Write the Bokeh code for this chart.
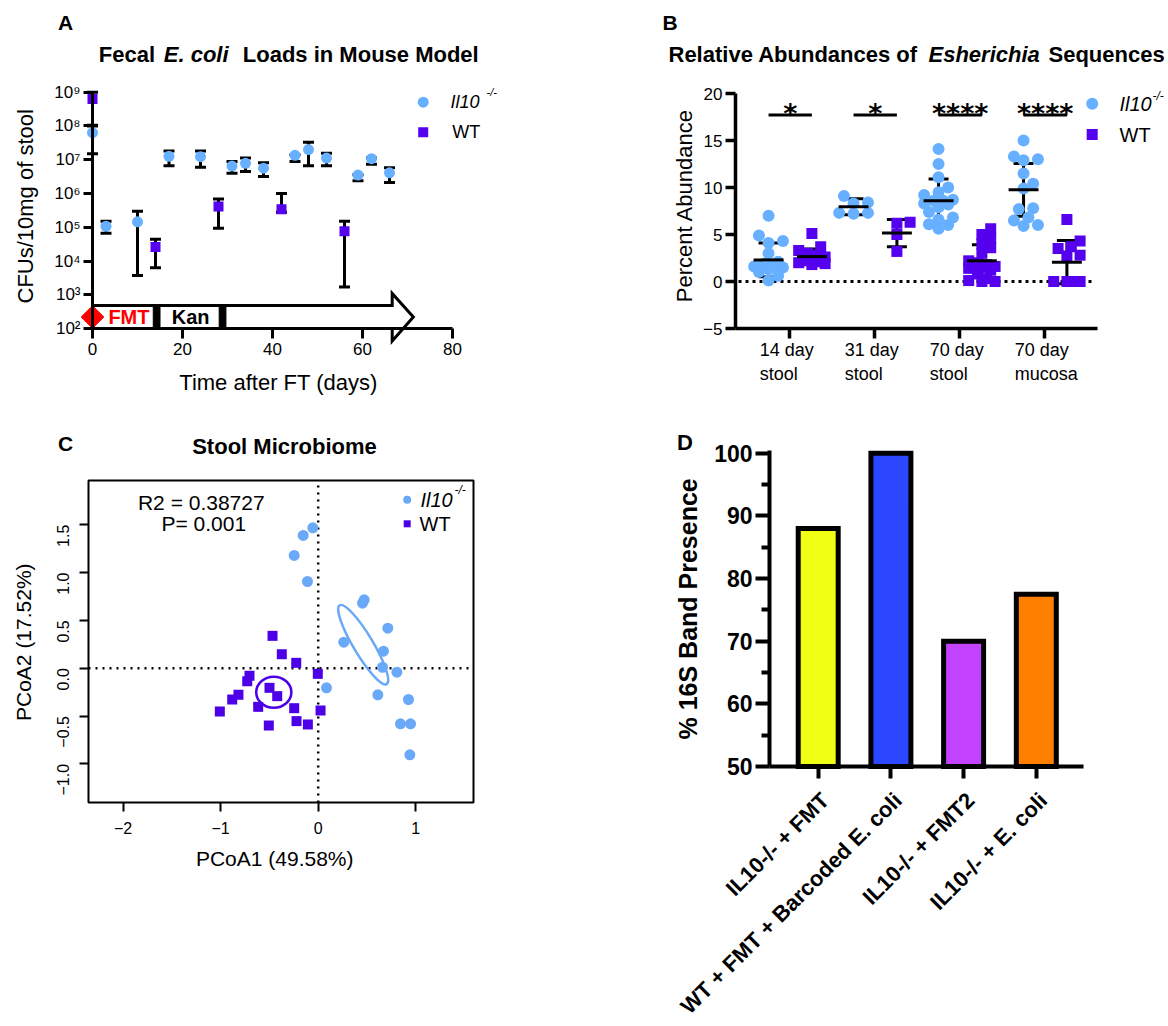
import numpy as np
from bokeh.plotting import figure
from bokeh.models import (Range1d, FixedTicker, Whisker, TeeHead, ColumnDataSource, Label,
                          CustomJSTickFormatter)
from bokeh.layouts import column, row
from bokeh.core.properties import value
from bokeh.embed import file_html
from bokeh.resources import INLINE

FONT = "Liberation Sans"
LBLUE = "#66B0FF"
PURPLE = "#5500EE"
C_LBLUE = "#6AA8F8"
C_PURPLE = "#4D00E8"

# ---------------- Panel A data ----------------
a_il10_days = [0, 3, 10, 17, 24, 31, 34, 38, 45, 48, 52, 59, 62, 66]
a_il10_cfu = [6.3e7, 1.07e5, 1.45e5, 1.26e7, 1.23e7, 6.5e6, 7.8e6, 5.6e6, 1.35e7, 2.0e7, 1.12e7, 3.5e6, 1.07e7, 4.1e6]
a_il10_low = [1.5e7, 6.6e4, 3.7e3, 6.6e6, 6.0e6, 4.0e6, 4.5e6, 3.2e6, 8.9e6, 6.6e6, 6.6e6, 2.4e6, 7.4e6, 2.1e6]
a_il10_high = [1.05e8, 1.5e5, 3.0e5, 1.8e7, 1.8e7, 8.9e6, 1.12e7, 8.1e6, 1.4e7, 3.3e7, 1.55e7, 3.6e6, 1.12e7, 5.8e6]
a_wt_days = [0, 14, 28, 42, 56]
a_wt_cfu = [6.3e8, 2.6e4, 4.1e5, 3.4e5, 7.6e4]
a_wt_low = [1.0e8, 6.3e3, 9.3e4, 2.8e5, 1.7e3]
a_wt_high = [1.0e9, 4.4e4, 6.9e5, 1.0e6, 1.5e5]
a_x_ticks = [0, 20, 40, 60, 80]
a_y_ticks = [1e2, 1e3, 1e4, 1e5, 1e6, 1e7, 1e8, 1e9]
a_timeline_days = [0, 66.6, 71.3]      # start, end of arrow body, arrow tip
a_phase_labels = ["FMT", "Kan"]
a_phase_colors = ["#FF0000", "black"]
a_phase_ends = [14.25, 28.9]
a_phase_label_x = [8.1, 21.8]

# ---------------- Panel B data ----------------
b_groups = ["14 day\nstool", "31 day\nstool", "70 day\nstool", "70 day\nmucosa"]
b_il10 = [
    [7.0, 4.9, 4.3, 4.1, 3.0, 2.1, 1.9, 1.7, 1.6, 1.5, 1.3, 1.0, 0.6, 0.1],
    [9.1, 8.4, 8.3, 7.3, 7.3, 7.2],
    [14.1, 12.5, 11.1, 10.0, 9.5, 9.2, 8.7, 8.6, 8.6, 8.3, 8.2, 7.9, 7.4, 6.8, 6.6, 6.1, 6.0, 5.6],
    [15.0, 13.3, 13.0, 12.9, 11.5, 10.4, 9.9, 7.8, 7.7, 6.8, 6.5, 6.0, 5.9],
]
b_wt = [
    [5.1, 3.7, 3.3, 3.0, 2.8, 2.6, 2.5, 2.4, 2.3, 2.2, 2.1, 2.0, 1.9, 1.8],
    [6.3, 6.2, 5.0, 3.2],
    [5.6, 5.0, 4.6, 4.0, 3.6, 3.0, 2.2, 2.0, 1.8, 1.7, 1.6, 1.5, 1.4, 1.2, 0.8, 0.3, 0.1, 0.0, 0.0],
    [6.6, 4.3, 3.7, 3.5, 2.8, 2.7, 0.0, 0.0, 0.0, 0.0],
]
b_il10_mean = [2.3, 7.95, 8.6, 9.75]
b_il10_sd = [1.8, 0.85, 2.3, 2.8]
b_wt_mean = [2.65, 5.15, 2.2, 2.05]
b_wt_sd = [0.8, 1.45, 1.7, 2.3]
b_sig = ["*", "*", "****", "****"]
b_sig_level = 17.7
b_y_ticks = [-5, 0, 5, 10, 15, 20]

# ---------------- Panel C data ----------------
c_il10_x = [-0.055, -0.154, -0.246, -0.110, 0.471, 0.454, 0.713, 0.262, 0.669, 0.659, 0.806, 0.085, 0.611, 0.925, 0.843, 0.946, 0.939]
c_il10_y = [1.467, 1.387, 1.178, 0.906, 0.715, 0.679, 0.418, 0.272, 0.178, 0.010, -0.042, -0.205, -0.278, -0.327, -0.581, -0.581, -0.905]
c_wt_x = [-0.468, -0.373, -0.225, -0.004, -0.704, -0.727, -0.499, -0.420, -0.817, -0.881, -0.615, -0.246, 0.024, -1.008, -0.222, -0.106, -0.506]
c_wt_y = [0.338, 0.146, 0.056, -0.059, -0.080, -0.136, -0.205, -0.292, -0.278, -0.327, -0.404, -0.418, -0.442, -0.452, -0.553, -0.588, -0.599]
c_ell_x = [0.461, -0.455]
c_ell_y = [0.246, -0.251]
c_ell_w = [0.94, 0.36]
c_ell_h = [0.205, 0.325]
c_ell_angle = [-1.033, 0.0]
c_x_ticks = [-2, -1, 0, 1]
c_y_ticks = [-1.0, -0.5, 0.0, 0.5, 1.0, 1.5]
c_box = [-2.3535, 1.5912, -1.4034, 1.9613]   # plotted region: x0, x1, y0, y1
c_r2 = "R2 = 0.38727"
c_p = "P= 0.001"

# ---------------- Panel D data ----------------
d_groups = ["IL10-/- + FMT", "WT + FMT + Barcoded E. coli", "IL10-/- + FMT2", "IL10-/- + E. coli"]
d_values = [88, 100, 70, 77.5]
d_colors = ["#F0FF14", "#2B47FF", "#C342FF", "#FF7F00"]
d_y_ticks = [50, 60, 70, 80, 90, 100]
d_y_minor = [55, 65, 75, 85, 95]


def lab(p, x, y, text, size, style="normal", align="left", baseline="middle",
        angle=0.0, color="black", font=FONT):
    p.add_layout(Label(x=x, y=y, text=text, text_font=font, text_font_size=f"{size}px",
                       text_font_style=style, text_align=align, text_baseline=baseline,
                       angle=angle, text_color=color))


def style_axis(ax, size, lw, tick_out, standoff=4, bold=False, loc=None, bounds=None):
    ax.axis_line_width = lw
    ax.axis_line_color = "black"
    ax.major_tick_line_width = lw
    ax.major_tick_line_color = "black"
    ax.major_tick_in = 0
    ax.major_tick_out = tick_out
    ax.minor_tick_line_color = None
    ax.major_label_text_font = FONT
    ax.major_label_text_font_size = f"{size}px"
    ax.major_label_text_color = "black"
    ax.major_label_standoff = standoff
    if bold:
        ax.major_label_text_font_style = "bold"
    if loc is not None:
        ax.fixed_location = loc
    if bounds is not None:
        ax.bounds = bounds


def base_fig(**kw):
    p = figure(output_backend="svg", toolbar_location=None, title=None,
               min_border=0, min_border_left=0, min_border_right=0,
               min_border_top=0, min_border_bottom=0, **kw)
    p.grid.visible = False
    p.outline_line_color = None
    p.background_fill_color = "white"
    p.border_fill_color = "white"
    return p


# ================= Panel A (page x 0-560, y 0-408) =================
def ax_(px):
    return (px - 92) / 4.5


def ay_(py):
    return 10 ** (9 - (py - 91.7) / 33.76)


pA = base_fig(width=560, height=408, x_range=Range1d(ax_(0), ax_(560)),
              y_range=Range1d(ay_(408), ay_(0)), y_axis_type="log")
pA.yaxis.ticker = FixedTicker(ticks=a_y_ticks, minor_ticks=[])
pA.xaxis.ticker = FixedTicker(ticks=a_x_ticks, minor_ticks=[])
pA.yaxis.formatter = CustomJSTickFormatter(code="""
const sup = {"2":"\u00b2","3":"\u00b3","4":"\u2074","5":"\u2075","6":"\u2076","7":"\u2077","8":"\u2078","9":"\u2079"};
const e = Math.round(Math.log10(tick));
return "10" + sup[String(e)];
""")
style_axis(pA.xaxis[0], 17, 3, 10, 4, loc=a_y_ticks[0], bounds=(a_x_ticks[0], a_x_ticks[-1]))
style_axis(pA.yaxis[0], 17, 3, 9, 3, loc=a_x_ticks[0], bounds=(a_y_ticks[0], a_y_ticks[-1]))

srcA_il = ColumnDataSource(dict(x=a_il10_days, y=a_il10_cfu, lo=a_il10_low, hi=a_il10_high))
srcA_wt = ColumnDataSource(dict(x=a_wt_days, y=a_wt_cfu, lo=a_wt_low, hi=a_wt_high))
for src in (srcA_il, srcA_wt):
    w = Whisker(base="x", upper="hi", lower="lo", source=src, dimension="height",
                line_width=3, line_color="black", level="underlay",
                upper_head=TeeHead(size=11, line_width=3, line_color="black"),
                lower_head=TeeHead(size=11, line_width=3, line_color="black"))
    pA.add_layout(w)

t0, t1, tip = a_timeline_days
arrow_x = [t0, t1, t1, tip, t1, t1, t0]
arrow_y = [10 ** v for v in (2.0, 2.0, 1.63, 2.34, 3.04, 2.68, 2.68)]
pA.patch(arrow_x, arrow_y, fill_color="white", line_color="black", line_width=3, line_join="miter")
pA.quad(left=[e - 0.75 for e in a_phase_ends], right=[e + 0.75 for e in a_phase_ends],
        bottom=100, top=10 ** 2.68, color="black")
pA.scatter([0], [10 ** 2.34], marker="square", angle=np.pi / 4, size=16,
           fill_color="#FF0000", line_color="#FF0000")
pA.text(x=a_phase_label_x, y=[10 ** 2.34] * 2, text=a_phase_labels, text_color=a_phase_colors,
        text_font=value(FONT), text_font_style="bold", text_font_size="20px",
        text_align="center", text_baseline="middle")

pA.scatter("x", "y", source=srcA_il, marker="circle", size=11, fill_color=LBLUE, line_color=None)
pA.scatter("x", "y", source=srcA_wt, marker="square", size=10, fill_color=PURPLE, line_color=None)

pA.scatter([ax_(422.7)], [ay_(101.7)], marker="circle", size=11, fill_color=LBLUE, line_color=None)
pA.scatter([ax_(422.7)], [ay_(131.7)], marker="square", size=10, fill_color=PURPLE, line_color=None)
lab(pA, ax_(450), ay_(101.7), "Il10", 18, style="italic")
lab(pA, ax_(486), ay_(91.5), "-/-", 11, style="italic")
lab(pA, ax_(451.7), ay_(131.7), "WT", 18)

lab(pA, ax_(57.5), ay_(21.5), "A", 21, style="bold")
lab(pA, ax_(98.3), ay_(53.8), "Fecal", 22, style="bold")
lab(pA, ax_(163.3), ay_(53.8), "E. coli", 22, style="bold italic")
lab(pA, ax_(242.3), ay_(53.8), "Loads in Mouse Model", 22, style="bold")
lab(pA, ax_(278), ay_(381.7), "Time after FT (days)", 22, align="center")
lab(pA, ax_(25), ay_(205.8), "CFUs/10mg of stool", 22, align="center", angle=np.pi / 2)


# ================= Panel B (page x 560-1168, y 0-408) =================
def bx_(px):
    return 0.3612 + (px - 735) / 85.0


def by_(py):
    return 20 - (py - 93) / 9.4


B_X0, B_X1 = bx_(735), bx_(1097)
pB = base_fig(width=608, height=408, x_range=Range1d(bx_(560), bx_(1168)),
              y_range=Range1d(by_(408), by_(0)))
pB.yaxis.ticker = FixedTicker(ticks=b_y_ticks, minor_ticks=[])
pB.xaxis.ticker = FixedTicker(ticks=[1, 2, 3, 4], minor_ticks=[])
pB.xaxis.formatter = CustomJSTickFormatter(code="return ''")
style_axis(pB.xaxis[0], 18, 3.5, 10, 4, loc=b_y_ticks[0], bounds=(B_X0, B_X1))
style_axis(pB.yaxis[0], 17, 3.5, 10, 3, loc=B_X0, bounds=(b_y_ticks[0], b_y_ticks[-1]))

pB.segment(x0=[bx_(738)], x1=[bx_(1092)], y0=[0], y1=[0], line_color="black", line_width=3,
           line_dash="3 4")

XPX, YPX = 85.0, 9.4


def swarm(vals, d, mind, maxw):
    order = sorted(range(len(vals)), key=lambda i: vals[i])
    placed = []
    offs = [0.0] * len(vals)
    step = d * 0.4
    cands = [0.0]
    s = 1
    while s * step <= maxw:
        cands += [s * step, -s * step]
        s += 1
    for i in order:
        yp = vals[i] * YPX
        best, bestd = 0.0, -1.0
        for c in cands:
            dmin = min([((c - qx) ** 2 + (yp - qy) ** 2) ** 0.5 for qx, qy in placed] or [1e9])
            if dmin >= mind:
                best = c
                break
            if dmin > bestd:
                best, bestd = c, dmin
        offs[i] = best
        placed.append((best, yp))
    return [o / XPX for o in offs]


IL_OFF, WT_OFF = -0.25, 0.26
il_x, il_y, wt_x, wt_y = [], [], [], []
for k in range(4):
    cat = k + 1
    for v, o in zip(b_il10[k], swarm(b_il10[k], 12, 10, 16)):
        il_x.append(cat + IL_OFF + o)
        il_y.append(v)
    for v, o in zip(b_wt[k], swarm(b_wt[k], 11, 9, 14)):
        wt_x.append(cat + WT_OFF + o)
        wt_y.append(v)

pB.scatter(il_x, il_y, marker="circle", size=12, fill_color=LBLUE, line_color=None)
pB.scatter(wt_x, wt_y, marker="square", size=11, fill_color=PURPLE, line_color=None)

cats = [1, 2, 3, 4]
gx = [c + IL_OFF for c in cats] + [c + WT_OFF for c in cats]
gm = b_il10_mean + b_wt_mean
gs = b_il10_sd + b_wt_sd
srcB = ColumnDataSource(dict(x=gx, m=gm, lo=[m - s for m, s in zip(gm, gs)],
                             hi=[m + s for m, s in zip(gm, gs)]))
pB.add_layout(Whisker(base="x", upper="hi", lower="lo", source=srcB, dimension="height",
                      line_width=3, line_color="black",
                      upper_head=TeeHead(size=20, line_width=3, line_color="black"),
                      lower_head=TeeHead(size=20, line_width=3, line_color="black")))
pB.segment(x0=[x - 0.176 for x in gx], x1=[x + 0.176 for x in gx], y0=gm, y1=gm,
           line_color="black", line_width=3)

pB.segment(x0=[c + IL_OFF for c in cats], x1=[c + WT_OFF for c in cats],
           y0=[b_sig_level] * 4, y1=[b_sig_level] * 4, line_color="black", line_width=3)
pB.text(x=[c + (IL_OFF + WT_OFF) / 2 for c in cats], y=[b_sig_level + 0.2] * 4, text=b_sig,
        text_font=value("DejaVu Sans"), text_font_style="bold", text_font_size="27px",
        text_align="center", text_baseline="alphabetic", text_color="black")

for c, g in zip(cats, b_groups):
    lab(pB, c - 30 / XPX, by_(339), g, 18, baseline="top")

pB.scatter([bx_(1091.7)], [by_(103.3)], marker="circle", size=12, fill_color=LBLUE, line_color=None)
pB.scatter([bx_(1091.7)], [by_(134)], marker="square", size=11, fill_color=PURPLE, line_color=None)
lab(pB, bx_(1119), by_(103.3), "Il10", 20, style="italic")
lab(pB, bx_(1152), by_(95), "-/-", 12, style="italic")
lab(pB, bx_(1119), by_(134), "WT", 20)

lab(pB, bx_(662), by_(21.5), "B", 21, style="bold")
lab(pB, bx_(668), by_(53.8), "Relative Abundances of", 22, style="bold")
lab(pB, bx_(928), by_(53.8), "Esherichia", 22, style="bold italic")
lab(pB, bx_(1048), by_(53.8), "Sequences", 22, style="bold")
lab(pB, bx_(684), by_(205), "Percent Abundance", 22, align="center", angle=np.pi / 2)


# ================= Panel C (page x 0-560, y 408-1024) =================
def cx_(px):
    return (px - 317.7) / 97.6


def cy_(py):
    return (667.7 - py) / 95.7


pC = base_fig(width=560, height=616, x_range=Range1d(cx_(0), cx_(560)),
              y_range=Range1d(cy_(1024), cy_(408)))
cbx0, cbx1, cby0, cby1 = c_box
pC.xaxis.ticker = FixedTicker(ticks=c_x_ticks, minor_ticks=[])
pC.yaxis.ticker = FixedTicker(ticks=c_y_ticks, minor_ticks=[])
pC.xaxis.formatter = CustomJSTickFormatter(code="return tick < 0 ? '\u2212' + Math.abs(tick).toFixed(0) : tick.toFixed(0);")
pC.yaxis.formatter = CustomJSTickFormatter(code="return tick < 0 ? '\u2212' + Math.abs(tick).toFixed(1) : tick.toFixed(1);")
style_axis(pC.xaxis[0], 16, 2, 9, 10, loc=cby0, bounds=(c_x_ticks[0], c_x_ticks[-1]))
style_axis(pC.yaxis[0], 16, 2, 9, 16, loc=cbx0, bounds=(c_y_ticks[0], c_y_ticks[-1]))
pC.xaxis.axis_line_color = None
pC.yaxis.axis_line_color = None
pC.yaxis.major_label_orientation = np.pi / 2

pC.quad(left=[cbx0], right=[cbx1], bottom=[cby0], top=[cby1], fill_color=None,
        line_color="black", line_width=2)
pC.segment(x0=[0, cbx0], x1=[0, cbx1], y0=[cby0, 0], y1=[cby1, 0], line_color="black",
           line_width=2.5, line_dash="2 5")

pC.ellipse(x=c_ell_x, y=c_ell_y, width=c_ell_w, height=c_ell_h, angle=c_ell_angle,
           fill_color=None, line_color=[C_LBLUE, C_PURPLE], line_width=2.5)
pC.scatter(c_il10_x, c_il10_y, marker="circle", size=11, fill_color=C_LBLUE, line_color=None)
pC.scatter(c_wt_x, c_wt_y, marker="square", size=10, fill_color=C_PURPLE, line_color=None)

lab(pC, cx_(200.8), cy_(501.7), c_r2, 21, align="center")
lab(pC, cx_(203.3), cy_(523.3), c_p, 21, align="center")

pC.scatter([cx_(406.7)], [cy_(499.3)], marker="circle", size=8, fill_color=C_LBLUE, line_color=None)
pC.scatter([cx_(406.7)], [cy_(523.3)], marker="square", size=7, fill_color=C_PURPLE, line_color=None)
lab(pC, cx_(420), cy_(499.3), "Il10", 20, style="italic")
lab(pC, cx_(454), cy_(489), "-/-", 12, style="italic")
lab(pC, cx_(419), cy_(523.3), "WT", 20)

lab(pC, cx_(57.5), cy_(443.3), "C", 21, style="bold")
lab(pC, cx_(191.7), cy_(446), "Stool Microbiome", 22, style="bold")
lab(pC, cx_(274.2), cy_(858), "PCoA1 (49.58%)", 21, align="center")
lab(pC, cx_(22.5), cy_(641.7), "PCoA2 (17.52%)", 21, align="center", angle=np.pi / 2)


# ================= Panel D (page x 560-1168, y 408-1024) =================
def dx_(px):
    return 1 + (px - 817.7) / 72.7


def dy_(py):
    return 100 - (py - 452.7) / 6.266


D_X0, D_X1 = dx_(769), dx_(1083)
pD = base_fig(width=608, height=616, x_range=Range1d(dx_(560), dx_(1168)),
              y_range=Range1d(dy_(1024), dy_(408)))
pD.yaxis.ticker = FixedTicker(ticks=d_y_ticks, minor_ticks=d_y_minor)
pD.xaxis.ticker = FixedTicker(ticks=[1, 2, 3, 4], minor_ticks=[])
pD.xaxis.formatter = CustomJSTickFormatter(code="return ''")
style_axis(pD.xaxis[0], 23, 4, 12, 2, bold=True, loc=d_y_ticks[0], bounds=(D_X0, D_X1))
style_axis(pD.yaxis[0], 23, 4, 14, 3, bold=True, loc=D_X0, bounds=(d_y_ticks[0], dy_(450)))
pD.yaxis.minor_tick_line_color = "black"
pD.yaxis.minor_tick_line_width = 4
pD.yaxis.minor_tick_in = 0
pD.yaxis.minor_tick_out = 8

pD.vbar(x=[1, 2, 3, 4], top=d_values, bottom=d_y_ticks[0], width=0.55, fill_color=d_colors,
        line_color="black", line_width=5, line_join="miter")

for c, g in zip([1, 2, 3, 4], d_groups):
    lab(pD, c + 7 / 72.7, dy_(796), g, 22, style="bold", align="right", baseline="middle",
        angle=np.pi / 4)

lab(pD, dx_(676.5), dy_(442), "D", 22, style="bold")
lab(pD, dx_(687.5), dy_(608.4), "% 16S Band Presence", 25, style="bold", align="center",
    angle=np.pi / 2)

layout = column(row(pA, pB), row(pC, pD))
open("out.html", "w", encoding="utf-8").write(file_html(layout, INLINE))
